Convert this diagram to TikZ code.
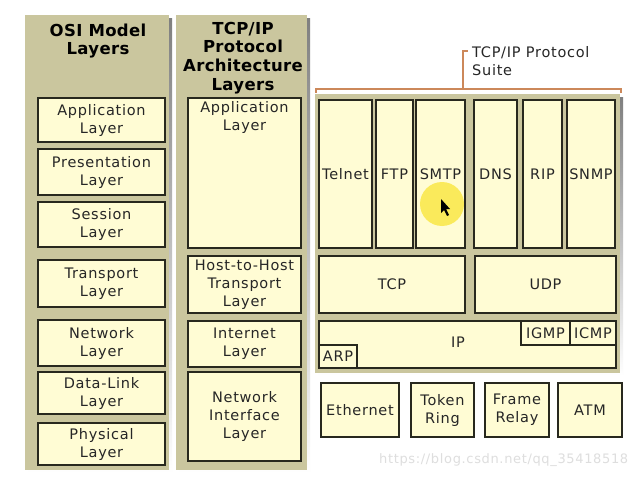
\documentclass[tikz,border=0pt]{standalone}
\usepackage{fontspec}
\setmainfont{DejaVu Sans}[LetterSpace=5]
\newfontfamily\ttlfont{DejaVu Sans}[LetterSpace=2]
\definecolor{panel}{RGB}{202,198,158}
\definecolor{shade}{RGB}{165,161,128}
\definecolor{boxfill}{RGB}{255,252,212}
\definecolor{edge}{RGB}{40,40,30}
\definecolor{bracec}{RGB}{204,136,90}
\definecolor{cursory}{RGB}{250,232,70}
\newcommand\bx[6]{\node[lbox, minimum width={(#4-#2)*1pt}, minimum height={(#5-#3)*1pt}] (#1) at ({(#2+#4)/2},{(#3+#5)/2}) {#6};}
\tikzset{
  lbox/.style={draw=edge, fill=boxfill, line width=1.3pt, inner sep=0pt, align=center, text=black!85, font=\fontsize{14.5}{18}\selectfont},
  lbl/.style={inner sep=0pt, align=center, text=black!85, font=\fontsize{14.5}{18}\selectfont},
  ttl/.style={inner sep=0pt, align=center, font=\ttlfont\fontsize{16.5}{18.8}\selectfont\bfseries},
  bracel/.style={draw=bracec, line width=1.5pt},
}
\begin{document}
\begin{tikzpicture}[x=1pt,y=-1pt]
\useasboundingbox[fill=white] (0,0) rectangle (630,479);
% panels
\fill[shade] (28,18) rectangle (172,473);
\fill[panel] (25,15) rectangle (169,470);
\fill[shade] (179,18) rectangle (310,473);
\fill[panel] (176,15) rectangle (307,470);
\fill[shade] (318,97) rectangle (623,376);
\fill[panel] (315,94) rectangle (620,373);
% titles
\node[ttl] (osiT) at (98,41) {OSI Model\\Layers};
\node[ttl] (tcpT) at (243,58) {TCP/IP\\Protocol\\Architecture\\Layers};
% brace
\coordinate (bl) at (316,93);
\coordinate (br) at (621,93);
\coordinate (bm) at (463,89);
\coordinate (bt) at (463,51);
\draw[bracel] (bl) -- (316,89) -- (621,89) -- (br);
\draw[bracel] (bm) -- (bt) -- (468,51);
\node[lbl, align=left, anchor=west] (suite) at (472,61) {TCP/IP Protocol\\Suite};
% OSI column
\bx{oApp}{38}{98}{165}{142}{Application\\Layer}
\bx{oPre}{38}{149}{165}{195}{Presentation\\Layer}
\bx{oSes}{38}{202}{165}{247}{Session\\Layer}
\bx{oTra}{38}{260}{165}{307}{Transport\\Layer}
\bx{oNet}{38}{320}{165}{366}{Network\\Layer}
\bx{oDat}{38}{372}{165}{414}{Data-Link\\Layer}
\bx{oPhy}{38}{423}{165}{465}{Physical\\Layer}
% TCP/IP column
\bx{tApp}{188}{98}{301}{248}{}
\node[lbl] (tAppL) at (244.5,117) {Application\\Layer};
\bx{tHost}{188}{256}{301}{313}{Host-to-Host\\Transport\\Layer}
\bx{tInt}{188}{321}{301}{367}{Internet\\Layer}
\bx{tNIL}{188}{372}{301}{461}{Network\\Interface\\Layer}
% protocol suite
\bx{telnet}{319}{100}{372}{248}{Telnet}
\bx{ftp}{376}{100}{413}{248}{FTP}
\bx{smtp}{416}{100}{465}{248}{SMTP}
\bx{dns}{474}{100}{517}{248}{DNS}
\bx{rip}{523}{100}{562}{248}{RIP}
\bx{snmp}{567}{100}{615}{248}{SNMP}
\bx{tcp}{319}{256}{465}{313}{TCP}
\bx{udp}{475}{256}{616}{313}{UDP}
\bx{ip}{319}{321}{616}{368}{}
\node[lbl] (ipL) at (458,342) {IP};
\bx{igmp}{521}{321}{570}{345}{IGMP}
\bx{icmp}{570}{321}{616}{345}{ICMP}
\bx{arp}{319}{345}{357}{368}{ARP}
% link layer
\bx{eth}{321}{383}{399}{437}{Ethernet}
\bx{tok}{411}{383}{474}{437}{Token\\Ring}
\bx{frm}{485}{383}{549}{437}{Frame\\Relay}
\bx{atm}{558}{383}{622}{437}{ATM}
% cursor highlight
\fill[cursory, opacity=0.85] (442,204) circle (22);
\fill[black] (441,199) -- (441,213) -- (444,210) -- (447,216) -- (449,215) -- (446,209) -- (450,209) -- cycle;
% watermark
\node[inner sep=0pt, text=black!13, font=\fontsize{13}{13}\selectfont, anchor=west] (wm) at (379,460) {https://blog.csdn.net/qq\_35418518};
\end{tikzpicture}
\end{document}
